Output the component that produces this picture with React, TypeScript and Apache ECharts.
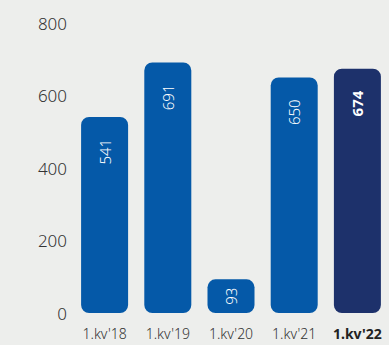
import React, { useEffect, useRef } from "react";
import * as echarts from "echarts";

const categories = ["1.kv'18", "1.kv'19", "1.kv'20", "1.kv'21", "1.kv'22"];
const values = [541, 691, 93, 650, 674];
const yTicks = [0, 200, 400, 600, 800];

const BLUE = "#0559a8";
const NAVY = "#1d316b";
const FONT = "'Noto Sans', 'DejaVu Sans', sans-serif";

export default function App() {
  const ref = useRef<HTMLDivElement>(null);
  useEffect(() => {
    document.body.style.margin = "0";
    document.body.style.background = "#edeeec";
    const chart = echarts.init(ref.current!, undefined, { renderer: "svg" });
    const last = values.length - 1;
    chart.setOption({
      animation: false,
      backgroundColor: "#edeeec",
      grid: { left: 73, right: -2, top: 23, bottom: 32, containLabel: false },
      xAxis: {
        type: "category",
        data: categories,
        axisLine: { show: false },
        axisTick: { show: false },
        axisLabel: {
          margin: 13,
          fontSize: 14,
          fontFamily: FONT,
          fontWeight: 300,
          color: "#333",
          interval: 0,
          formatter: (v: string, i: number) => (i === last ? `{b|${v}}` : v),
          rich: {
            b: { fontSize: 14, fontFamily: FONT, fontWeight: "bold", color: "#222" },
          },
        },
      },
      yAxis: {
        type: "value",
        min: yTicks[0],
        max: yTicks[yTicks.length - 1],
        interval: 200,
        splitLine: { show: false },
        axisLine: { show: false },
        axisTick: { show: false },
        axisLabel: {
          margin: 6,
          fontSize: 17,
          fontFamily: FONT,
          fontWeight: 300,
          color: "#333",
        },
      },
      series: [
        {
          type: "bar",
          barWidth: 47,
          data: values.map((v, i) => {
            const item: any = {
              value: v,
              itemStyle: { color: i === last ? NAVY : BLUE, borderRadius: 8 },
            };
            if (v < 150) {
              item.label = { position: "inside", align: "center", verticalAlign: "middle" };
            }
            if (i === last) {
              item.label = { fontWeight: "bold" };
            }
            return item;
          }),
          label: {
            show: true,
            position: "insideTop",
            distance: 22,
            rotate: 90,
            align: "right",
            verticalAlign: "middle",
            color: "#fff",
            fontSize: 15,
            fontFamily: FONT,
            fontWeight: 300,
          },
        },
      ],
    });
    return () => chart.dispose();
  }, []);
  return <div ref={ref} style={{ width: 389, height: 345 }} />;
}
